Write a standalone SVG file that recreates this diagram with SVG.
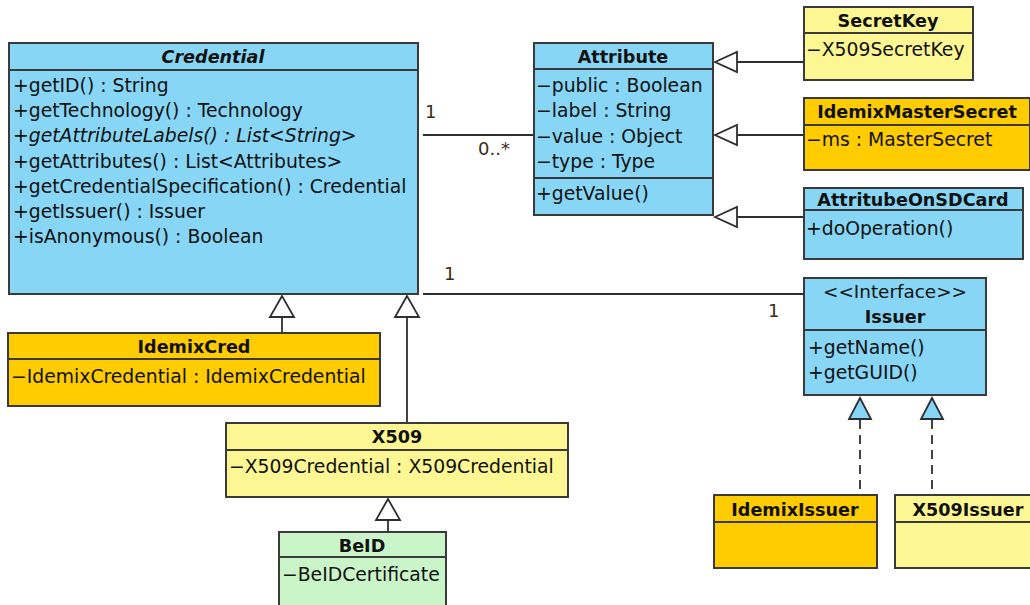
<svg xmlns="http://www.w3.org/2000/svg" width="1030" height="605" viewBox="0 0 1030 605">
  <defs>
    <style>
      .box { stroke: #3a3a3a; stroke-width: 2; }
      .sep { stroke: #3a3a3a; stroke-width: 2; fill: none; }
      .blue { fill: #87d6f5; }
      .gold { fill: #ffcc00; }
      .pale { fill: #fcf792; }
      .mint { fill: #c9f5c9; }
      text { font-family: "DejaVu Sans", "Liberation Sans", sans-serif; font-size: 18.8px; fill: #111; }
      .title { font-weight: bold; font-size: 17.6px; text-anchor: middle; }
      .stereo { text-anchor: middle; font-size: 18.4px; }
      .ital { font-style: italic; }
      .edge { stroke: #2e2e2e; stroke-width: 1.8; fill: none; }
      .dash { stroke-dasharray: 9 6; }
      .mult { font-size: 18px; fill: #3b2a14; }
      .gen { fill: #ffffff; stroke: #2e2e2e; stroke-width: 1.8; }
      .real { fill: #87d6f5; stroke: #2e2e2e; stroke-width: 1.8; }
    </style>
  </defs>
  <rect width="1030" height="605" fill="#ffffff"/>

  <!-- connectors -->
  <g id="connectors">
    <!-- Credential 1 — 0..* Attribute -->
    <line class="edge" x1="423" y1="135" x2="534" y2="135"/>
    <text class="mult" x="425" y="118">1</text>
    <text class="mult" x="478" y="155">0..*</text>

    <!-- Credential 1 — 1 Issuer -->
    <line class="edge" x1="423" y1="294" x2="804" y2="294"/>
    <text class="mult" x="444" y="280">1</text>
    <text class="mult" x="768" y="317">1</text>

    <!-- SecretKey, IdemixMasterSecret, AttritubeOnSDCard generalize Attribute -->
    <line class="edge" x1="737" y1="62" x2="804" y2="62"/>
    <polygon class="gen" points="715,62 737,52 737,72"/>
    <line class="edge" x1="737" y1="135" x2="804" y2="135"/>
    <polygon class="gen" points="715,135 737,125 737,145"/>
    <line class="edge" x1="737" y1="217" x2="804" y2="217"/>
    <polygon class="gen" points="715,217 737,207 737,227"/>

    <!-- IdemixCred, X509 generalize Credential -->
    <line class="edge" x1="282" y1="317" x2="282" y2="333"/>
    <polygon class="gen" points="282,296 270,317 294,317"/>
    <line class="edge" x1="407" y1="317" x2="407" y2="423"/>
    <polygon class="gen" points="407,296 395,317 419,317"/>

    <!-- BeID generalizes X509 -->
    <line class="edge" x1="388" y1="520" x2="388" y2="532"/>
    <polygon class="gen" points="388,499 376,520 400,520"/>

    <!-- IdemixIssuer, X509Issuer realize Issuer -->
    <line class="edge dash" x1="860" y1="420" x2="860" y2="495"/>
    <polygon class="real" points="860,398 849,419 871,419"/>
    <line class="edge dash" x1="932" y1="420" x2="932" y2="495"/>
    <polygon class="real" points="932,398 921,419 943,419"/>
  </g>

  <!-- Credential -->
  <g id="credential">
    <rect class="box blue" x="9" y="43" width="409" height="251"/>
    <line class="sep" x1="9" y1="70" x2="418" y2="70"/>
    <text class="title ital" x="213" y="63">Credential</text>
    <text x="13" y="92">+getID() : String</text>
    <text x="13" y="117">+getTechnology() : Technology</text>
    <text x="13" y="142" class="ital">+getAttributeLabels() : List&lt;String&gt;</text>
    <text x="13" y="168">+getAttributes() : List&lt;Attributes&gt;</text>
    <text x="13" y="193">+getCredentialSpecification() : Credential</text>
    <text x="13" y="218">+getIssuer() : Issuer</text>
    <text x="13" y="243">+isAnonymous() : Boolean</text>
  </g>

  <!-- Attribute -->
  <g id="attribute">
    <rect class="box blue" x="534" y="43" width="179" height="172"/>
    <line class="sep" x1="534" y1="69" x2="713" y2="69"/>
    <line class="sep" x1="534" y1="178" x2="713" y2="178"/>
    <text class="title" x="623" y="63">Attribute</text>
    <text x="536" y="92">−public : Boolean</text>
    <text x="536" y="117">−label : String</text>
    <text x="536" y="143">−value : Object</text>
    <text x="536" y="168">−type : Type</text>
    <text x="536" y="200">+getValue()</text>
  </g>

  <!-- SecretKey -->
  <g id="secretkey">
    <rect class="box pale" x="804" y="7" width="169" height="73"/>
    <line class="sep" x1="804" y1="33" x2="973" y2="33"/>
    <text class="title" x="888" y="27">SecretKey</text>
    <text x="806" y="56">−X509SecretKey</text>
  </g>

  <!-- IdemixMasterSecret -->
  <g id="idemixmastersecret">
    <rect class="box gold" x="804" y="98" width="226" height="72"/>
    <line class="sep" x1="804" y1="125" x2="1030" y2="125"/>
    <text class="title" x="917" y="118">IdemixMasterSecret</text>
    <text x="806" y="146">−ms : MasterSecret</text>
  </g>

  <!-- AttritubeOnSDCard -->
  <g id="attritubeonsdcard">
    <rect class="box blue" x="804" y="188" width="219" height="71"/>
    <line class="sep" x1="804" y1="210" x2="1023" y2="210"/>
    <text class="title" x="913" y="206">AttritubeOnSDCard</text>
    <text x="806" y="235">+doOperation()</text>
  </g>

  <!-- Issuer -->
  <g id="issuer">
    <rect class="box blue" x="804" y="278" width="182" height="117"/>
    <line class="sep" x1="804" y1="330" x2="986" y2="330"/>
    <text class="stereo" x="895" y="298">&lt;&lt;Interface&gt;&gt;</text>
    <text class="title" x="895" y="323">Issuer</text>
    <text x="808" y="354">+getName()</text>
    <text x="808" y="379">+getGUID()</text>
  </g>

  <!-- IdemixIssuer -->
  <g id="idemixissuer">
    <rect class="box gold" x="714" y="495" width="163" height="73"/>
    <line class="sep" x1="714" y1="522" x2="877" y2="522"/>
    <text class="title" x="795" y="516">IdemixIssuer</text>
  </g>

  <!-- X509Issuer -->
  <g id="x509issuer">
    <rect class="box pale" x="895" y="495" width="150" height="73"/>
    <line class="sep" x1="895" y1="522" x2="1045" y2="522"/>
    <text class="title" x="968" y="516">X509Issuer</text>
  </g>

  <!-- IdemixCred -->
  <g id="idemixcred">
    <rect class="box gold" x="8" y="333" width="372" height="73"/>
    <line class="sep" x1="8" y1="359" x2="380" y2="359"/>
    <text class="title" x="194" y="353">IdemixCred</text>
    <text x="11" y="383">−IdemixCredential : IdemixCredential</text>
  </g>

  <!-- X509 -->
  <g id="x509">
    <rect class="box pale" x="226" y="423" width="342" height="74"/>
    <line class="sep" x1="226" y1="450" x2="568" y2="450"/>
    <text class="title" x="397" y="443">X509</text>
    <text x="229" y="473">−X509Credential : X509Credential</text>
  </g>

  <!-- BeID -->
  <g id="beid">
    <rect class="box mint" x="279" y="532" width="167" height="75"/>
    <line class="sep" x1="279" y1="557" x2="446" y2="557"/>
    <text class="title" x="362" y="552">BeID</text>
    <text x="282" y="581">−BeIDCertificate</text>
  </g>
</svg>
